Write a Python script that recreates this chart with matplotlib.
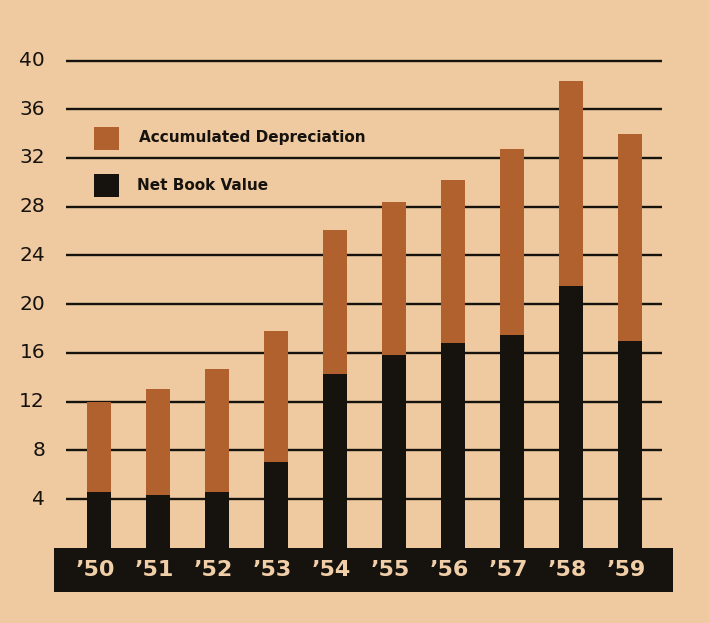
import matplotlib
matplotlib.use("Agg")
import matplotlib.pyplot as plt
from matplotlib.patches import Rectangle

# Values in millions of dollars
years = ["’50", "’51", "’52", "’53", "’54", "’55", "’56", "’57", "’58", "’59"]
net_book_value = [4.6, 4.35, 4.6, 7.0, 14.3, 15.8, 16.8, 17.5, 21.5, 17.0]
accumulated_depreciation = [7.4, 8.65, 10.1, 10.8, 11.8, 12.6, 13.4, 15.2, 16.8, 17.0]
y_ticks = [4, 8, 12, 16, 20, 24, 28, 32, 36, 40]

paper = "#efc9a0"
brown = "#b0612e"
ink = "#16120e"
light_text = "#f0cfa8"

fig = plt.figure(figsize=(7.09, 6.23), dpi=100, facecolor=paper)
ax = fig.add_axes([0, 0, 1, 1])
ax.set_facecolor(paper)
ax.set_xlim(-1.678, 10.34)
ax.set_ylim(-6.18, 44.97)
ax.axis("off")

x = list(range(len(years)))

# Horizontal rules behind the bars
ax.hlines(y_ticks, -0.56, 9.54, colors=ink, linewidth=1.7, zorder=1)

# Stacked columns
ax.bar(x, net_book_value, width=0.42, color=ink, zorder=2)
ax.bar(x, accumulated_depreciation, width=0.42, bottom=net_book_value,
       color=brown, zorder=2)

# Dark base strip holding the year labels
ax.add_patch(Rectangle((-0.763, -3.62), 10.49, 3.62, facecolor=ink,
                       edgecolor="none", zorder=3))
for xi, label in zip(x, years):
    ax.text(xi - 0.06, -1.85, label, ha="center", va="center", color=light_text,
            fontsize=16, fontweight="bold", family=["DejaVu Sans"],
            zorder=4)

# Value scale on the left
for t in y_ticks:
    ax.text(-0.915, t, str(t), ha="right", va="center", color=ink,
            fontsize=14.5, family=["DejaVu Sans"], zorder=4)

# Key
ax.add_patch(Rectangle((-0.085, 32.65), 0.42, 1.9, facecolor=brown,
                       edgecolor="none", zorder=4))
ax.add_patch(Rectangle((-0.085, 28.76), 0.42, 1.9, facecolor=ink,
                       edgecolor="none", zorder=4))
ax.text(0.68, 33.7, "Accumulated Depreciation", ha="left", va="center",
        color=ink, fontsize=11, fontweight="bold",
        family=["DejaVu Sans"], zorder=4)
ax.text(0.64, 29.75, "Net Book Value", ha="left", va="center",
        color=ink, fontsize=11, fontweight="bold",
        family=["DejaVu Sans"], zorder=4)

fig.savefig("out.png", dpi=100, facecolor=paper)
